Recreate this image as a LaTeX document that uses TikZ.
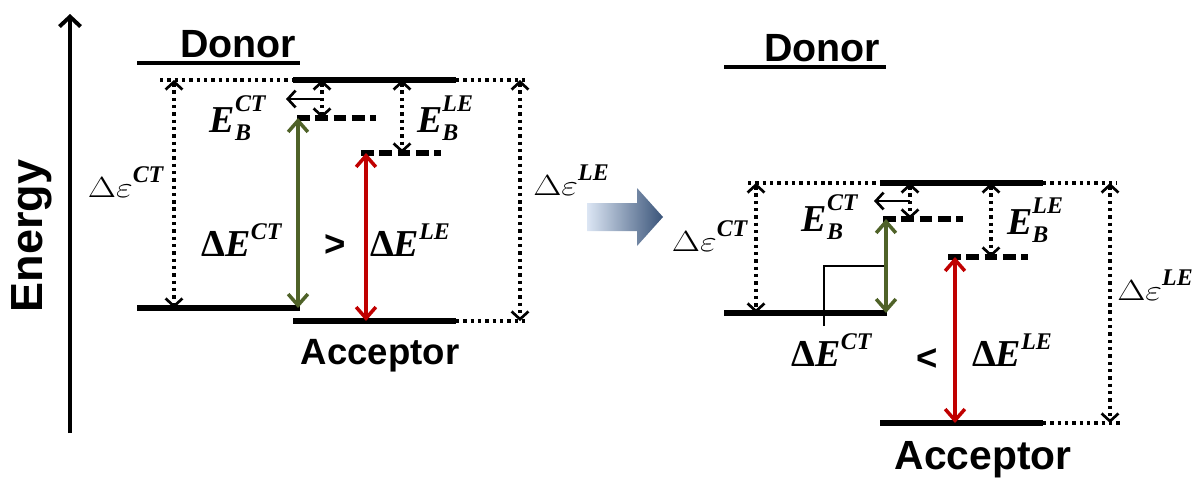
\documentclass[tikz,border=0pt]{standalone}
\usepackage{fontspec}
\setmainfont{Liberation Serif}
\setsansfont{Liberation Sans}
\usetikzlibrary{arrows.meta}

\definecolor{ctgreen}{HTML}{4F6228}
\definecolor{lered}{HTML}{C00000}
\definecolor{arrowlight}{HTML}{DCE6F4}
\definecolor{arrowdark}{HTML}{3A5479}

\newcommand{\suptext}[1]{{\fontsize{17}{19}\selectfont\textbf{\textit{#1}}}}
\newcommand{\EBlabel}[1]{\textbf{\textit{E}}\rlap{\raisebox{-0.22em}{\suptext{B}}}\raisebox{0.55em}{\suptext{#1}}}
\newcommand{\dElabel}[1]{\textbf{Δ\textit{E}}\raisebox{0.45em}{\suptext{#1}}}
\newcommand{\depslabel}[1]{\scalebox{1.25}[1]{$\Delta\varepsilon$}\raisebox{0.5em}{\suptext{#1}}}

\begin{document}
\begin{tikzpicture}[x=0.025cm, y=-0.025cm,
  level/.style={line width=3.6pt},
  dashlevel/.style={line width=3.6pt, dash pattern=on 9pt off 4pt},
  dotline/.style={line width=2.6pt, dash pattern=on 2.4pt off 2.8pt},
  dotarrow/.style={dotline, {Straight Barb[length=5.5pt,width=12pt,line width=1.9pt]}-{Straight Barb[length=5.5pt,width=12pt,line width=1.9pt]}},
  gaparrow/.style={line width=2.5pt, {Straight Barb[length=8pt,width=14pt]}-{Straight Barb[length=8pt,width=14pt]}},
  title/.style={font=\sffamily\bfseries\fontsize{28}{32}\selectfont},
  sym/.style={font=\fontsize{27}{32}\selectfont},
  eps/.style={font=\fontsize{21}{24}\selectfont}]
\useasboundingbox (0,0) rectangle (1194,480);

% energy axis
\coordinate (ebot) at (70,433);
\coordinate (etop) at (70,14);
\draw[line width=2.8pt, -{Straight Barb[length=7pt,width=15pt]}] (ebot) -- (etop);
\node[title, font=\sffamily\bfseries\fontsize{32}{36}\selectfont, rotate=90] (energy) at (32,236) {Energy};

% ---- left panel ----
\node[title] (donorL) at (238,44) {Donor};
\coordinate (udl1) at (137,63); \coordinate (udl2) at (300,63);
\draw[line width=3.2pt] (udl1) -- (udl2);

\coordinate (tl0) at (160,80); \coordinate (tl1) at (293,80);
\coordinate (tl2) at (456,80); \coordinate (tl3) at (528,80);
\draw[level] (tl1) -- (tl2);
\draw[dotline] (tl0) -- (tl1);
\draw[dotline] (tl2) -- (tl3);

\coordinate (cl1) at (297,118); \coordinate (cl2) at (376,118);
\draw[dashlevel] (cl1) -- (cl2);
\coordinate (ll1) at (361,153); \coordinate (ll2) at (441,153);
\draw[dashlevel] (ll1) -- (ll2);

\coordinate (bl1) at (137,308); \coordinate (bl2) at (300,308);
\draw[level] (bl1) -- (bl2);
\coordinate (al1) at (293,321); \coordinate (al2) at (456,321);
\coordinate (al3) at (528,321);
\draw[level] (al1) -- (al2);
\draw[dotline] (al2) -- (al3);
\node[title, font=\sffamily\bfseries\fontsize{26}{30}\selectfont] (accL) at (380,356) {Acceptor};

\draw[dotarrow] (174,80) coordinate (dctL1) -- (174,308) coordinate (dctL2);
\draw[dotarrow] (520,80) coordinate (dleL1) -- (520,321) coordinate (dleL2);
\draw[dotarrow] (322,80) coordinate (bctL1) -- (322,118) coordinate (bctL2);
\draw[dotarrow] (402,80) coordinate (bleL1) -- (402,153) coordinate (bleL2);
\coordinate (pL1) at (322,99); \coordinate (pL2) at (286,99);
\draw[line width=1.9pt, -{Straight Barb[length=5.5pt,width=12pt]}] (pL1) -- (pL2);
\draw[gaparrow, ctgreen] (298,118) coordinate (gL1) -- (298,308) coordinate (gL2);
\draw[gaparrow, lered] (366,153) coordinate (rL1) -- (366,321) coordinate (rL2);

\node[sym] (ebctL) at (238,118) {\EBlabel{CT}};
\node[sym] (ebleL) at (445,118) {\EBlabel{LE}};
\node[sym] (dectL) at (242,240) {\dElabel{CT}};
\node[sym] (deleL) at (410,240) {\dElabel{LE}};
\node[title, font=\sffamily\bfseries\fontsize{26}{30}\selectfont] (gtL) at (335,246) {>};
\node[eps] (epsctL) at (126,182) {\depslabel{CT}};
\node[eps] (epsleL) at (571,180) {\depslabel{LE}};

% ---- transition arrow ----
\shade[left color=arrowlight, right color=arrowdark]
  (587,203) -- (637,203) -- (637,188) -- (663,217) -- (637,246) -- (637,231) -- (587,231) -- cycle;

% ---- right panel ----
\node[title] (donorR) at (822,48) {Donor};
\coordinate (udr1) at (724,67); \coordinate (udr2) at (886,67);
\draw[line width=3.2pt] (udr1) -- (udr2);

\coordinate (tr0) at (748,183); \coordinate (tr1) at (880,183);
\coordinate (tr2) at (1043,183); \coordinate (tr3) at (1117,183);
\draw[level] (tr1) -- (tr2);
\draw[dotline] (tr0) -- (tr1);
\draw[dotline] (tr2) -- (tr3);

\coordinate (cr1) at (883,219); \coordinate (cr2) at (963,219);
\draw[dashlevel] (cr1) -- (cr2);
\coordinate (lr1) at (948,257); \coordinate (lr2) at (1028,257);
\draw[dashlevel] (lr1) -- (lr2);

\coordinate (br1) at (724,313); \coordinate (br2) at (887,313);
\draw[level] (br1) -- (br2);
\coordinate (ar1) at (880,423); \coordinate (ar2) at (1043,423);
\coordinate (ar3) at (1120,423);
\draw[level] (ar1) -- (ar2);
\draw[dotline] (ar2) -- (ar3);
\node[title, font=\sffamily\bfseries\fontsize{29}{34}\selectfont] (accR) at (983,460) {Acceptor};

\coordinate (st1) at (824,326); \coordinate (st2) at (824,266); \coordinate (st3) at (886,266);
\draw[line width=1.6pt] (st1) -- (st2) -- (st3);

\draw[dotarrow] (756,183) coordinate (dctR1) -- (756,313) coordinate (dctR2);
\draw[dotarrow] (1110,183) coordinate (dleR1) -- (1110,423) coordinate (dleR2);
\draw[dotarrow] (910,183) coordinate (bctR1) -- (910,219) coordinate (bctR2);
\draw[dotarrow] (991,183) coordinate (bleR1) -- (991,257) coordinate (bleR2);
\coordinate (pR1) at (910,201); \coordinate (pR2) at (874,201);
\draw[line width=1.9pt, -{Straight Barb[length=5.5pt,width=12pt]}] (pR1) -- (pR2);
\draw[gaparrow, ctgreen] (886,219) coordinate (gR1) -- (886,313) coordinate (gR2);
\draw[gaparrow, lered] (955,257) coordinate (rR1) -- (955,423) coordinate (rR2);

\node[sym] (ebctR) at (830,217) {\EBlabel{CT}};
\node[sym] (ebleR) at (1035,220) {\EBlabel{LE}};
\node[sym] (dectR) at (832,350) {\dElabel{CT}};
\node[sym] (deleR) at (1012,350) {\dElabel{LE}};
\node[title, font=\sffamily\bfseries\fontsize{26}{30}\selectfont] (ltR) at (927,360) {<};
\node[eps] (epsctR) at (710,236) {\depslabel{CT}};
\node[eps] (epsleR) at (1155,285) {\depslabel{LE}};
\end{tikzpicture}
\end{document}
